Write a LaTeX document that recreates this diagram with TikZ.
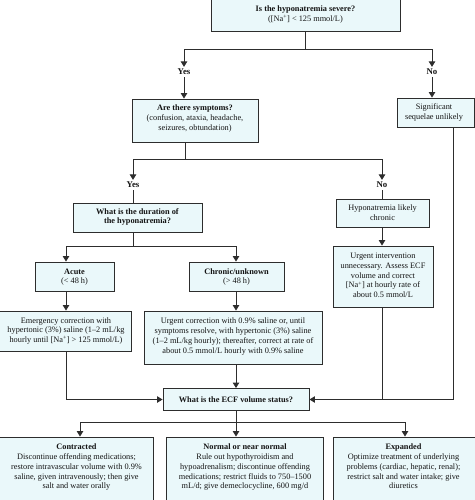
\documentclass[tikz,border=0pt]{standalone}
\usepackage{fontspec}
\setmainfont{Liberation Serif}
\usetikzlibrary{arrows.meta}
\definecolor{boxfill}{RGB}{234,248,250}
\definecolor{lncol}{RGB}{45,45,45}
\definecolor{txtcol}{RGB}{20,20,20}
\newcommand{\nap}{[Na\textsuperscript{+}]}
\begin{document}
\begin{tikzpicture}[x=1pt,y=-1pt,
  font=\fontsize{8.3}{9.7}\selectfont,
  box/.style={draw=lncol, line width=0.9pt, fill=boxfill, inner sep=0pt},
  txt/.style={align=center, inner sep=0pt, text=txtcol},
  arr/.style={draw=lncol, line width=0.9pt, -{Triangle[length=5.5pt,width=6.5pt]}},
  plain/.style={draw=lncol, line width=0.9pt},
  lab/.style={font=\fontsize{8.8}{10}\selectfont\bfseries, inner sep=2pt, text=txtcol}]
\useasboundingbox (0,0) rectangle (474,500);

% boxes
\node[box, minimum width=189pt, minimum height=33pt] (top) at (305.5,14.5) {};
\node[txt] (topt) at (305.5,14.5) {\textbf{Is the hyponatremia severe?}\\(\nap{} < 125 mmol/L)};

\node[box, minimum width=126pt, minimum height=43pt] (symp) at (195,120.5) {};
\node[txt] (sympt) at (195,118.5) {\textbf{Are there symptoms?}\\(confusion, ataxia, headache,\\seizures, obtundation)};

\node[box, minimum width=77pt, minimum height=29pt] (seq) at (435.5,112.5) {};
\node[txt] (seqt) at (434,112.5) {Significant\\sequelae unlikely};

\node[box, minimum width=129pt, minimum height=29pt] (dur) at (137.5,217.5) {};
\node[txt] (durt) at (137.5,217) {\textbf{What is the duration of}\\\textbf{the hyponatremia?}};

\node[box, minimum width=93pt, minimum height=28pt] (chron) at (382.5,213) {};
\node[txt] (chront) at (382.5,212.5) {Hyponatremia likely\\chronic};

\node[box, minimum width=100pt, minimum height=61pt] (urgint) at (383,276.5) {};
\node[txt] (urgintt) at (383,275.5) {Urgent intervention\\unnecessary. Assess ECF\\volume and correct\\\nap{} at hourly rate of\\about 0.5 mmol/L};

\node[box, minimum width=79pt, minimum height=29pt] (acute) at (74.5,276.5) {};
\node[txt] (acutet) at (74.5,277) {\textbf{Acute}\\(< 48 h)};

\node[box, minimum width=95pt, minimum height=29pt] (chrunk) at (236.5,276.5) {};
\node[txt] (chrunkt) at (236.5,277) {\textbf{Chronic/unknown}\\(> 48 h)};

\node[box, minimum width=133pt, minimum height=40pt] (emerg) at (64.5,331) {};
\node[txt] (emergt) at (66,331) {Emergency correction with\\hypertonic (3\%) saline (1--2 mL/kg\\hourly until \nap{} > 125 mmol/L)};

\node[box, minimum width=178pt, minimum height=53pt] (urgcorr) at (233,337.5) {};
\node[txt] (urgcorrt) at (233,336.5) {Urgent correction with 0.9\% saline or, until\\symptoms resolve, with hypertonic (3\%) saline\\(1--2 mL/kg hourly); thereafter, correct at rate of\\about 0.5 mmol/L hourly with 0.9\% saline};

\node[box, minimum width=146pt, minimum height=22pt] (ecf) at (236,399.5) {};
\node[txt] (ecft) at (236,399.5) {\textbf{What is the ECF volume status?}};

\node[box, minimum width=155pt, minimum height=70pt] (contr) at (75.5,472) {};
\node[txt, anchor=north] (contrt) at (76.5,444) {\textbf{Contracted}\\Discontinue offending medications;\\restore intravascular volume with 0.9\%\\saline, given intravenously; then give\\salt and water orally};

\node[box, minimum width=157pt, minimum height=70pt] (norm) at (244.5,472) {};
\node[txt, anchor=north] (normt) at (245,444) {\textbf{Normal or near normal}\\Rule out hypothyroidism and\\hypoadrenalism; discontinue offending\\medications; restrict fluids to 750--1500\\mL/d; give demeclocycline, 600 mg/d};

\node[box, minimum width=143pt, minimum height=70pt] (expd) at (404.5,472) {};
\node[txt, anchor=north] (expdt) at (403.5,444) {\textbf{Expanded}\\Optimize treatment of underlying\\problems (cardiac, hepatic, renal);\\restrict salt and water intake; give\\diuretics};

% Yes / No labels
\node[lab] (yes1) at (184,72) {Yes};
\node[lab] (no1) at (432,72) {No};
\node[lab] (yes2) at (133,185) {Yes};
\node[lab] (no2) at (382,185) {No};

% junction coordinates
\coordinate (j1) at (305.5,49);
\coordinate (j2) at (185,159);
\coordinate (j3) at (133,246);
\coordinate (xa) at (66,246);
\coordinate (xc) at (236,246);
\coordinate (xe) at (66.5,399.5);
\coordinate (cR) at (453,399.5);
\coordinate (j4) at (236,422);
\coordinate (b1) at (80,422);
\coordinate (b3) at (405,422);

% connectors
\draw[plain] (top.south) -- (j1);
\draw[arr] (j1) -| (yes1.north);
\draw[arr] (j1) -| (no1.north);
\draw[arr] (yes1.south) -- (yes1.south |- symp.north);
\draw[arr] (no1.south) -- (no1.south |- seq.north);

\draw[plain] (j2 |- symp.south) -- (j2);
\draw[arr] (j2) -| (yes2.north);
\draw[arr] (j2) -| (no2.north);
\draw[plain] (yes2.south) -- (yes2.south |- dur.north);
\draw[plain] (no2.south) -- (no2.south |- chron.north);

\draw[arr] (no2 |- chron.south) -- (no2 |- urgint.north);
\draw[plain] (no2 |- urgint.south) -- (no2 |- cR);
\draw[arr] (cR |- seq.south) -- (cR) -- (ecf.east);

\draw[plain] (j3 |- dur.south) -- (j3);
\draw[arr] (j3) -- (xa) -- (xa |- acute.north);
\draw[arr] (j3) -- (xc) -- (xc |- chrunk.north);

\draw[arr] (xa |- acute.south) -- (xa |- emerg.north);
\draw[arr] (xc |- chrunk.south) -- (xc |- urgcorr.north);

\draw[arr] (xe |- emerg.south) -- (xe) -- (ecf.west);
\draw[arr] (xc |- urgcorr.south) -- (ecf.north);

\draw[plain] (ecf.south) -- (j4);
\draw[arr] (j4) -- (b1) -- (b1 |- contr.north);
\draw[arr] (j4) -- (norm.north -| j4);
\draw[arr] (j4) -- (b3) -- (b3 |- expd.north);
\end{tikzpicture}
\end{document}
